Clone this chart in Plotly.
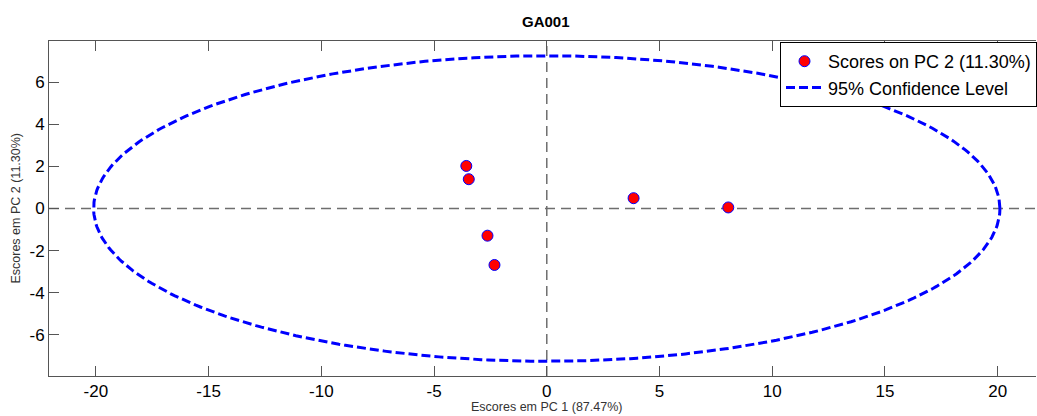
import numpy as np
import plotly.graph_objects as go

# Scores (PC1, PC2)
pc1_scores = [-3.57, -3.46, -2.63, -2.32, 3.85, 8.05]
pc2_scores = [2.02, 1.39, -1.29, -2.68, 0.49, 0.05]

# 95% confidence ellipse semi-axes
ellipse_a = 20.1
ellipse_b = 7.25

x_ticks = [-20, -15, -10, -5, 0, 5, 10, 15, 20]
x_tick_labels = ["-20", "-15", "-10", "-5", "0", "5", "10", "15", "20"]
y_ticks = [-6, -4, -2, 0, 2, 4, 6]
y_tick_labels = ["-6", "-4", "-2", "0", "2", "4", "6"]

t = np.linspace(0, 2 * np.pi, 400)
ex = ellipse_a * np.cos(t)
ey = ellipse_b * np.sin(t)

fig = go.Figure()
fig.add_trace(go.Scatter(
    x=pc1_scores, y=pc2_scores, mode="markers",
    name="Scores on PC 2 (11.30%)",
    marker=dict(size=11, color="red", line=dict(color="blue", width=1)),
))
fig.add_trace(go.Scatter(
    x=ex, y=ey, mode="lines", name="95% Confidence Level",
    line=dict(color="blue", width=3, dash="9px,4px"),
))

xr = [-22.08, 21.7]
yr = [-7.95, 7.95]

# zero reference lines
fig.add_shape(type="line", xref="x", yref="y", x0=xr[0], x1=xr[1], y0=0, y1=0,
              line=dict(color="#6e6e6e", width=1.5, dash="10px,6px"), layer="below")
fig.add_shape(type="line", xref="x", yref="y", x0=0, x1=0, y0=yr[0], y1=yr[1],
              line=dict(color="#6e6e6e", width=1.5, dash="10px,6px"), layer="below")

tick_font = dict(family="Arial", size=17, color="black")
fig.update_layout(
    width=1037, height=416,
    margin=dict(l=49, r=0, t=41, b=40),
    plot_bgcolor="white", paper_bgcolor="white",
    showlegend=True,
    legend=dict(
        x=(780.5 - 49) / 988, y=(376 - 42) / 335, xanchor="left", yanchor="top",
        bgcolor="white", bordercolor="black", borderwidth=1,
        font=dict(family="Arial", size=18, color="black"),
        itemwidth=37, tracegroupgap=0,
    ),
    xaxis=dict(
        range=xr, tickvals=x_ticks, ticktext=x_tick_labels, ticks="inside", ticklen=10,
        tickcolor="#555", showline=True, linecolor="#555", linewidth=1,
        mirror="ticks", showgrid=False, zeroline=False, tickfont=tick_font,
    ),
    yaxis=dict(
        range=yr, tickvals=y_ticks, ticktext=y_tick_labels, ticks="inside", ticklen=10,
        tickcolor="#555", showline=True, linecolor="#555", linewidth=1,
        mirror=False, showgrid=False, zeroline=False, tickfont=tick_font,
    ),
    annotations=[
        dict(text="<b>GA001</b>", xref="x", x=-0.05, yref="paper", y=(376 - 21) / 335,
             showarrow=False, xanchor="center", yanchor="middle",
             font=dict(family="Arial", size=15, color="black")),
        dict(text="Escores em PC 1 (87.47%)", xref="x", x=0, yref="paper",
             y=(376 - 407) / 335, showarrow=False, xanchor="center", yanchor="middle",
             font=dict(family="Arial", size=12.5, color="#333")),
        dict(text="Escores em PC 2 (11.30%)", xref="paper", x=(15 - 49) / 988,
             yref="y", y=0, showarrow=False, xanchor="center", yanchor="middle",
             textangle=-90, font=dict(family="Arial", size=12.5, color="#333")),
    ],
)

fig.write_html("out.html", config={"displayModeBar": False},
               post_script="document.body.style.margin='0';")
